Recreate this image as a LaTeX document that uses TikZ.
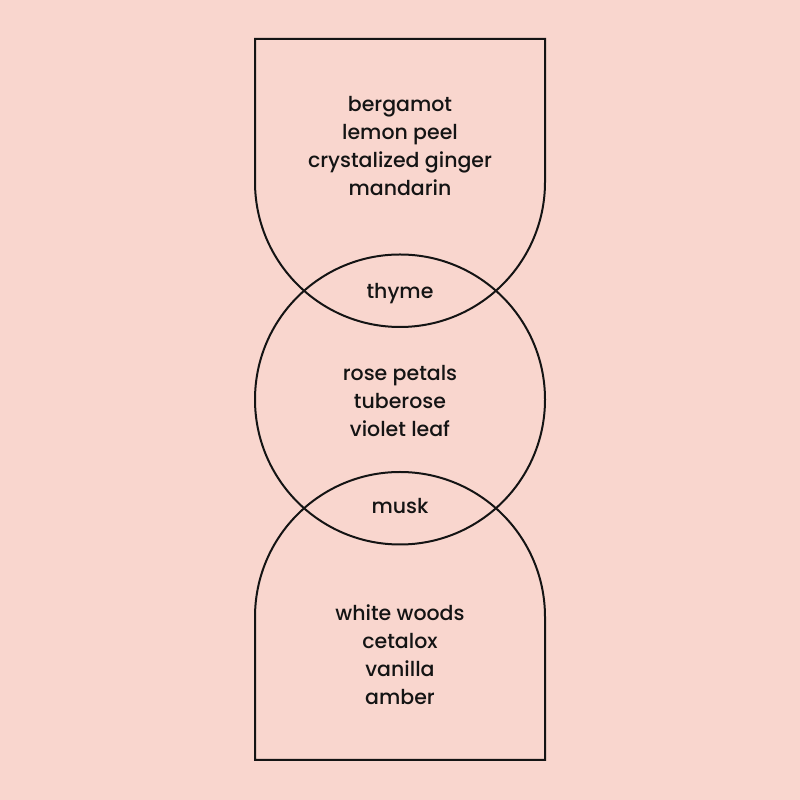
\documentclass[tikz,border=0pt]{standalone}
\usepackage{fontspec}
\setmainfont{Poppins Medium}
\definecolor{bg}{HTML}{F9D6CE}
\definecolor{ink}{HTML}{141414}
\begin{document}
\begin{tikzpicture}[x=1pt,y=1pt,
  outline/.style={draw=ink,line width=2pt},
  label/.style={text=ink,align=center,font=\fontsize{20.5}{28}\selectfont,inner sep=0pt}]
\fill[bg] (0,0) rectangle (800,800);
\useasboundingbox (0,0) rectangle (800,800);
% top arch
\draw[outline] (545,618) -- (545,761) -- (255,761) -- (255,618) arc[start angle=180,end angle=360,radius=145];
% middle circle
\draw[outline] (400,400.5) circle[radius=145];
% bottom arch
\draw[outline] (255,183) -- (255,40) -- (545,40) -- (545,183) arc[start angle=0,end angle=180,radius=145];
\node[label] (top) at (400,654) {bergamot\\lemon peel\\crystalized ginger\\mandarin};
\node[label] (thyme) at (400,506) {thyme};
\node[label] (mid) at (400,398.5) {rose petals\\tuberose\\violet leaf};
\node[label] (musk) at (400,294) {musk};
\node[label] (bot) at (400,145.5) {white woods\\cetalox\\vanilla\\amber};
\end{tikzpicture}
\end{document}
